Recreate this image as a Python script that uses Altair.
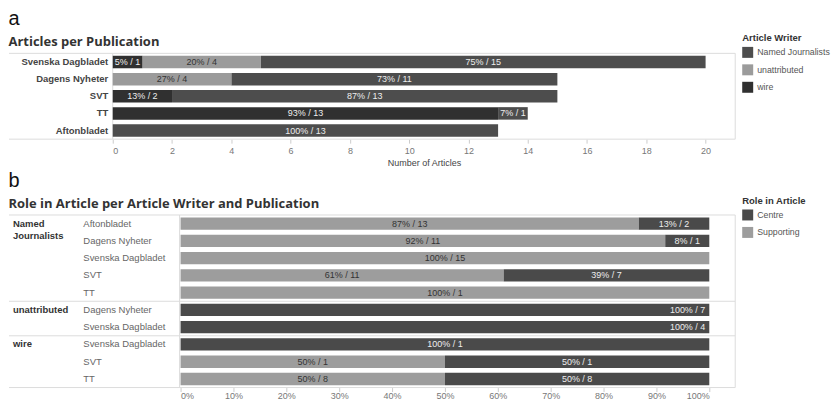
import altair as alt
import pandas as pd

# ---------------- Panel a: Articles per Publication ----------------
publications_a = ["Svenska Dagbladet", "Dagens Nyheter", "SVT", "TT", "Aftonbladet"]
writers = ["Named Journalists", "unattributed", "wire"]
named_counts = [15, 11, 13, 1, 13]
unattributed_counts = [4, 4, 0, 0, 0]
wire_counts = [1, 0, 2, 13, 0]
writer_colors = ["#4d4d4d", "#9b9b9b", "#303030"]
stack_order_a = {"wire": 0, "unattributed": 1, "Named Journalists": 2}
x_ticks_a = list(range(0, 21, 2))

# ---------------- Panel b: Role in Article ----------------
row_writer_b = ["Named Journalists"] * 5 + ["unattributed"] * 2 + ["wire"] * 3
row_pub_b = ["Aftonbladet", "Dagens Nyheter", "Svenska Dagbladet", "SVT", "TT",
             "Dagens Nyheter", "Svenska Dagbladet",
             "Svenska Dagbladet", "SVT", "TT"]
supporting_counts = [13, 11, 15, 11, 1, 0, 0, 0, 1, 8]
centre_counts = [2, 1, 0, 7, 0, 7, 4, 1, 1, 8]
label_anchor_b = ["middle"] * 5 + ["end"] * 2 + ["middle"] * 3
roles = ["Centre", "Supporting"]
role_colors = ["#4a4a4a", "#9d9d9d"]
stack_order_b = {"Supporting": 0, "Centre": 1}
x_ticks_b = [i / 10 for i in range(11)]
writer_labels_b = ["Named\nJournalists", "unattributed", "wire"]

# ---------------- build tables ----------------
rows_a = []
for w, cs in zip(writers, [named_counts, unattributed_counts, wire_counts]):
    for p, c in zip(publications_a, cs):
        if c > 0:
            rows_a.append({"publication": p, "writer": w, "count": c,
                           "order": stack_order_a[w]})
df_a = pd.DataFrame(rows_a)

keys_b = [f"{w}|{p}" for w, p in zip(row_writer_b, row_pub_b)]
rows_b = []
for k, s, c, anc in zip(keys_b, supporting_counts, centre_counts, label_anchor_b):
    for role, n in (("Supporting", s), ("Centre", c)):
        if n > 0:
            rows_b.append({"key": k, "role": role, "count": n,
                           "order": stack_order_b[role], "anchor": anc})
df_b = pd.DataFrame(rows_b)

first_keys = [keys_b[row_writer_b.index(w)] for w in writers]
df_w = pd.DataFrame({"key": first_keys, "wlabel": writer_labels_b})
df_div = pd.DataFrame({"key": first_keys[1:]})
one = pd.DataFrame({"v": [0]})

# layout (pixels)
W, H_A, H_B = 624, 86, 173
LEFT = 104          # label column left of plot origin
B_X0, B_X1 = 68, 598  # 0% and 100% positions of panel b inside the shared width
FONT = "Liberation Sans"
TFONT = "Open Sans"
LINE = "#dcdcdc"

# ---------------- chart a ----------------
base_a = (
    alt.Chart(df_a)
    .transform_joinaggregate(total="sum(count)", groupby=["publication"])
    .transform_stack(stack="count", groupby=["publication"], as_=["c0", "c1"],
                     sort=[alt.SortField("order", order="ascending")])
    .transform_calculate(
        mid="(datum.c0 + datum.c1) / 2",
        label="format(datum.count / datum.total, '.0%') + ' / ' + datum.count",
    )
)
y_a = alt.Y("publication:N", sort=publications_a,
            scale=alt.Scale(paddingInner=0.27, paddingOuter=0.14),
            axis=alt.Axis(title=None, ticks=False, domain=False, labelFontSize=9.5,
                          labelFontWeight="bold", labelColor="#444", labelPadding=5,
                          labelFont=FONT))
x_scale_a = alt.Scale(domain=[0, 21], nice=False)
x_axis_a = alt.Axis(values=x_ticks_a, title="Number of Articles", grid=False,
                    domain=False, tickColor="#cccccc", tickSize=4, labelColor="#777",
                    labelFontSize=9, labelFont=FONT, titleFont=FONT, titleFontSize=9,
                    titleFontWeight="normal", titleColor="#444", labelPadding=3,
                    titlePadding=3)
bars_a = base_a.mark_bar().encode(
    x=alt.X("c0:Q", scale=x_scale_a, axis=x_axis_a),
    x2="c1:Q",
    y=y_a,
    color=alt.Color("writer:N", scale=alt.Scale(domain=writers, range=writer_colors),
                    legend=alt.Legend(title="Article Writer", orient="none",
                                      legendX=631, legendY=-20)),
)
text_a = base_a.mark_text(fontSize=9, font=FONT).encode(
    x=alt.X("mid:Q", scale=x_scale_a, axis=x_axis_a),
    y=y_a,
    text="label:N",
    color=alt.condition("datum.writer == 'unattributed'", alt.value("#333333"),
                        alt.value("#eeeeee")),
)
rule_top_a = alt.Chart(one).mark_rule(color=LINE).encode(
    x=alt.value(-LEFT), x2=alt.value(W), y=alt.value(0))
rule_bot_a = alt.Chart(one).mark_rule(color=LINE).encode(
    x=alt.value(-LEFT), x2=alt.value(W), y=alt.value(H_A))
rule_l_a = alt.Chart(one).mark_rule(color=LINE).encode(
    x=alt.value(0), y=alt.value(0), y2=alt.value(H_A))
rule_r_a = alt.Chart(one).mark_rule(color=LINE).encode(
    x=alt.value(W), y=alt.value(0), y2=alt.value(H_A))

chart_a = alt.layer(rule_l_a, bars_a, text_a, rule_top_a, rule_bot_a,
                    rule_r_a).properties(
    width=W, height=H_A,
    title=alt.TitleParams(text="a", subtitle="Articles per Publication", offset=-16),
)

# ---------------- chart b ----------------
base_b = (
    alt.Chart(df_b)
    .transform_joinaggregate(total="sum(count)", groupby=["key"])
    .transform_stack(stack="count", groupby=["key"], as_=["c0", "c1"],
                     sort=[alt.SortField("order", order="ascending")])
    .transform_calculate(
        p0="datum.c0 / datum.total",
        p1="datum.c1 / datum.total",
        pm="(datum.c0 + datum.c1) / 2 / datum.total",
        label="format(datum.count / datum.total, '.0%') + ' / ' + datum.count",
    )
)
y_scale_b = alt.Scale(paddingInner=0.28, paddingOuter=0.14)
y_b = alt.Y("key:N", sort=keys_b, scale=y_scale_b,
            axis=alt.Axis(title=None, ticks=False, domain=False, labelAlign="left",
                          labelPadding=30, labelFontSize=9.5, labelColor="#666",
                          labelFont=FONT,
                          labelExpr="split(datum.label, '|')[1]"))
x_scale_b = alt.Scale(domain=[0, 1], range=[B_X0, B_X1], nice=False)
x_axis_b = alt.Axis(values=x_ticks_b, format=".0%", title=None, grid=False,
                    domain=False, tickColor="#cccccc", tickSize=4, labelColor="#777",
                    labelFontSize=9, labelFont=FONT, labelPadding=0)
bars_b = base_b.mark_bar().encode(
    x=alt.X("p0:Q", scale=x_scale_b, axis=x_axis_b),
    x2="p1:Q",
    y=y_b,
    color=alt.Color("role:N", scale=alt.Scale(domain=roles, range=role_colors),
                    legend=alt.Legend(title="Role in Article", orient="none",
                                      legendX=631, legendY=-19)),
)
txt_color_b = alt.condition("datum.role == 'Supporting'", alt.value("#333333"),
                            alt.value("#eeeeee"))
text_mid_b = base_b.transform_filter("datum.anchor == 'middle'").mark_text(
    fontSize=9, font=FONT).encode(
    x=alt.X("pm:Q", scale=x_scale_b, axis=x_axis_b), y=y_b, text="label:N",
    color=txt_color_b)
text_end_b = base_b.transform_filter("datum.anchor == 'end'").mark_text(
    fontSize=9, font=FONT, align="right", dx=-4).encode(
    x=alt.X("p1:Q", scale=x_scale_b, axis=x_axis_b), y=y_b, text="label:N",
    color=txt_color_b)
writer_text_b = alt.Chart(df_w).mark_text(
    fontSize=9.5, font=FONT, fontWeight="bold", color="#333", align="left",
    baseline="top", dy=-5, lineBreak="\n", lineHeight=12).encode(
    x=alt.value(-LEFT + 4), y=alt.Y("key:N", sort=keys_b, scale=y_scale_b),
    text="wlabel:N")
div_b = alt.Chart(df_div).mark_rule(color=LINE, yOffset=-H_B / 20).encode(
    x=alt.value(-LEFT), x2=alt.value(W),
    y=alt.Y("key:N", sort=keys_b, scale=y_scale_b))
rule_top_b = alt.Chart(one).mark_rule(color=LINE).encode(
    x=alt.value(-LEFT), x2=alt.value(W), y=alt.value(0))
rule_bot_b = alt.Chart(one).mark_rule(color=LINE).encode(
    x=alt.value(-LEFT), x2=alt.value(W), y=alt.value(H_B))
rule_l_b = alt.Chart(one).mark_rule(color=LINE).encode(
    x=alt.value(B_X0 - 1), y=alt.value(0), y2=alt.value(H_B))
rule_r_b = alt.Chart(one).mark_rule(color=LINE).encode(
    x=alt.value(W), y=alt.value(0), y2=alt.value(H_B))

chart_b = alt.layer(rule_l_b, bars_b, text_mid_b, text_end_b, writer_text_b, div_b,
                    rule_top_b, rule_bot_b, rule_r_b).properties(
    width=W, height=H_B,
    title=alt.TitleParams(text="b",
                          subtitle="Role in Article per Article Writer and Publication",
                          offset=-15),
)

chart = (
    alt.vconcat(chart_a, chart_b, spacing=2)
    .resolve_scale(color="independent", x="independent", y="independent")
    .resolve_legend(color="independent")
    .properties(padding=0)
    .configure_view(stroke="transparent")
    .configure_title(anchor="start", frame="bounds", font=FONT, fontSize=20,
                     fontWeight="normal", color="#111", subtitleFont=TFONT,
                     subtitleFontSize=13, subtitleFontWeight="bold",
                     subtitleColor="#333", subtitlePadding=7)
    .configure_legend(titleFont=FONT, titleFontSize=9.5, titleFontWeight="bold",
                      titleColor="#333", labelFont=FONT, labelFontSize=8.8,
                      labelColor="#555", symbolType="square", symbolSize=121,
                      symbolStrokeWidth=0, rowPadding=6.5, titlePadding=4,
                      labelOffset=4, labelLimit=300)
)

chart.save("out.html", embed_options={"renderer": "svg", "actions": False})
